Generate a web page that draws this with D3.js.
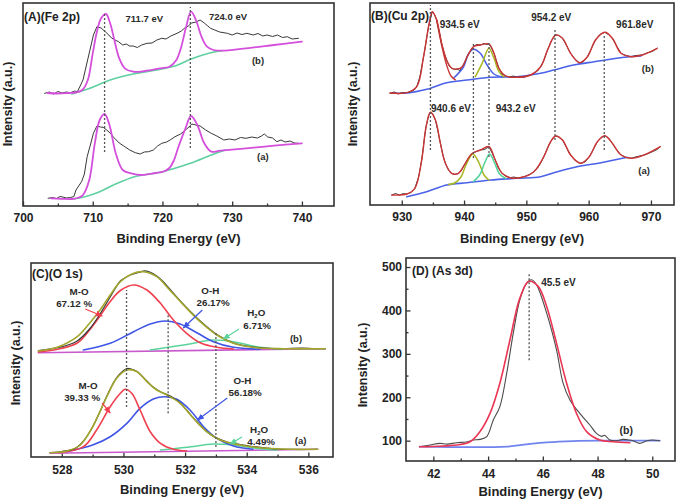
<!DOCTYPE html>
<html><head><meta charset="utf-8">
<script src="https://cdn.jsdelivr.net/npm/d3@7"></script>
<style>body{margin:0;background:#fff}svg{display:block}</style>
</head><body>
<script>
// ---------------- DATA ----------------
// Panel A  (Fe 2p)  [binding energy eV, intensity a.u.]
const feB_data = [[703.1,112.7],[703.8,114],[704.4,112],[705,114.5],[705.6,113],[706.2,114],[706.8,113.2],[707.4,115],[707.8,114.3],[708.2,120],[708.6,126],[709.0,138],[709.5,153],[710.1,171],[710.6,179.3],[711.2,178],[711.8,174.3],[712.3,171],[712.7,168],[713.2,166],[713.7,164.3],[714.3,161],[714.8,162],[715.3,160],[715.8,160],[716.4,158.5],[717.0,161],[717.8,162.7],[718.5,163],[719.2,166],[719.9,167.7],[720.5,167],[721.2,170],[722.1,172.7],[722.7,175],[723.2,178],[723.7,180],[724.2,183],[724.8,184],[725.4,186],[726,183],[726.5,180],[726.9,177.7],[727.5,176],[728.2,174],[729.3,172.7],[730,171],[730.7,173],[731.4,171.5],[732.1,172.7],[733,171],[733.7,172.5],[734.4,170],[735,171],[735.8,169.5],[736.5,171],[737.2,168.5],[737.9,169.3],[738.6,167],[739.5,167.7]];
const feB_fit = [[703.5,113],[705,112.5],[706.5,113],[707.5,113.5],[708.5,116],[709.3,126],[710,152.7],[710.6,174.3],[711.2,187.7],[711.9,192],[712.5,182.7],[713.1,166],[713.8,147.7],[714.6,137.7],[715.8,134.3],[717.5,135],[719.7,137.7],[721,139.3],[722,146],[722.7,159.3],[723.4,179.3],[724.1,194.3],[724.8,186],[725.6,169.3],[726.4,159.3],[727.3,156],[728.5,155.3],[732,157.7],[736,161],[740,164.3]];
const feB_bg = [[707,112],[709.6,117.7],[712.5,126],[715.8,132],[719.7,136.7],[722,140.5],[724,146.7],[726.9,153.3],[728.5,155.3]];
const feA_data = [[703.6,7.7],[704.2,8.5],[704.8,7.5],[705.3,9.5],[705.7,9],[706.2,8],[706.8,8.5],[707.3,9.5],[707.6,16],[708.4,24.3],[708.8,32],[709.2,49.3],[709.7,62],[710.1,72.7],[710.6,80],[711.1,79],[711.5,78.7],[712,76],[712.5,73],[713,68.7],[713.8,63],[714.6,59.3],[715.3,56],[716.1,53.3],[716.8,52],[717.4,54],[718,54.3],[718.7,56],[719.3,60],[719.9,62.7],[720.6,64],[721.2,66.5],[721.8,69.3],[722.6,72],[723.3,76],[723.8,79],[724.2,82],[724.8,81],[725.4,80],[726.2,76],[727,72.7],[727.8,70],[728.8,66],[729.6,67],[730.4,66],[731.2,68.5],[732,67.7],[732.8,69],[733.6,68],[734.2,70],[734.6,72],[735.1,69],[735.8,68],[736.4,64.3],[737,66],[737.6,64],[738.3,65],[738.9,63],[739.5,62.7]];
const feA_fit = [[704,7.7],[705.5,7.2],[707,7],[708,8.5],[708.6,11],[709.5,26],[710.3,62.7],[711,86],[711.7,92],[712.4,81],[713.3,52.7],[714.3,36],[715.5,32.7],[717,31],[719,33],[720.2,34.5],[721,38],[721.6,45],[722.3,59.3],[723.3,77.7],[724.1,90],[725,81],[726,62.7],[727,54.3],[728.3,55.3],[732,57.7],[736,60.3],[740,62.7]];
const feA_bg = [[707,7],[708.9,9.3],[711,14.3],[713,21],[716,29.3],[720,34.3],[724,42.7],[727,51],[729,56]];
const feMarks = [[711.7,54,194],[724.0,58,199]];   // eV, low, high
const feTicksMajor = [700,710,720,730,740];
const feTicksMinor = [705,715,725,735];

// Panel B  (Cu 2p)
const cuB_data = [[928.1,111.7],[928.8,113],[929.4,111],[930.1,112.5],[930.8,112.3],[931.5,113.5],[932,115],[932.4,118.3],[932.9,128],[933.5,148.3],[934,167],[934.3,178.3],[934.9,193.3],[935.3,190],[935.6,185],[936,174],[936.4,161.7],[936.8,152],[937.2,145],[937.6,139],[938,136.7],[938.5,135.5],[938.9,136],[939.3,134.5],[939.7,138.3],[940.1,143],[940.5,148.3],[941,154],[941.5,158.3],[942,160.5],[942.6,160],[943.2,161.5],[943.6,160.5],[944,161],[944.4,157],[944.8,151.7],[945.2,144],[945.6,136.7],[946.1,131],[946.7,129],[947.3,128],[947.9,129],[948.5,127.7],[949.1,128.5],[949.6,127.5],[950.2,129.5],[950.7,130],[951.3,132],[951.8,134],[952.3,138.3],[952.9,146],[953.4,155],[954,164],[954.7,170],[955.2,169.5],[955.8,166.7],[956.4,160],[957.1,151.7],[957.8,146],[958.5,142.3],[959.1,143],[959.8,148.3],[960.4,156],[961.1,165],[961.8,170.5],[962.6,172.7],[963.2,170.5],[963.8,166.7],[964.5,159],[965.2,151.7],[966,149.5],[966.8,148.3],[967.6,149.5],[968.6,150],[969.3,152],[970.2,153.5],[971,156.7]];
const cuB_fit = [[928.1,112],[930.8,112.3],[932.4,118.3],[933.5,148.3],[934.3,178.3],[934.9,193.3],[935.6,185],[936.4,161.7],[937.2,145],[938,137],[938.9,136],[939.7,138.3],[940.5,148.3],[941.5,158.3],[942.6,160],[944,161],[944.8,151.7],[945.6,136.7],[946.7,129],[948.5,127.7],[950.7,130],[952.3,138.3],[953.4,155],[954.7,170],[955.8,166.7],[957.1,151.7],[958.5,142.3],[959.8,148.3],[961.1,165],[962.6,172.7],[963.8,166.7],[965.2,151.7],[966.8,148.3],[968.6,150],[971,156.7]];
const cuB_main = [[935.6,185],[936.4,160],[937.2,140],[937.9,129],[938.6,125.2]];
const cuB_bg = [[928.5,112],[930.8,112],[934,115.7],[937.2,122.3],[940.5,125],[944.3,127.7],[948.5,128.3],[952.3,131.7],[954.4,135],[957.6,140],[960.9,143.3],[965.7,147.7],[968.4,149]];
const cuB_sat1 = [[938.3,126.7],[939.9,138],[940.7,151],[941.5,155.7],[942.6,151.7],[943.7,140],[944.8,131],[946.4,127.7]];
const cuB_sat2 = [[941.8,128.3],[942.9,141.7],[944,156.7],[944.8,146.7],[945.6,133.3],[946.4,128]];
const cuA_data = [[928.4,10],[929,11.5],[929.6,10],[930.2,11.3],[930.8,11],[931.5,12.5],[932.1,16.7],[932.7,28],[933.2,45],[933.6,65],[933.9,78.3],[934.3,89],[934.6,92.7],[935,91],[935.4,85],[935.8,74],[936.2,61.7],[936.6,50],[937,41.7],[937.5,35],[938,31.7],[938.5,30.5],[939.1,31.7],[939.6,35],[940.2,41.7],[940.7,47],[941.2,51],[941.8,53],[942.6,55],[943.3,55.5],[944,58.3],[944.5,52],[945,45],[945.5,37],[946.1,31.7],[946.7,29],[947.4,27.3],[948,28],[948.6,27],[949.3,27.7],[949.9,29],[950.5,30.5],[951.2,33.3],[951.8,37],[952.3,42],[952.8,48.3],[953.4,57],[953.9,63.3],[954.3,67],[954.7,69],[955.2,68],[955.8,65],[956.4,58],[957.1,50],[957.9,44],[958.7,41.7],[959.4,43],[960.1,48.3],[960.7,55],[961.4,63.3],[962,67.5],[962.6,69.3],[963.2,67],[963.8,61.7],[964.5,55],[965.2,50],[966,47.5],[966.8,46.7],[967.5,48],[968.2,49],[968.9,50],[969.6,51.5],[970.3,53.5],[971,55.5],[971.5,58.3]];
const cuA_fit = [[928.4,10],[930.8,11],[932.1,16.7],[933.2,45],[933.9,78.3],[934.6,92.7],[935.4,85],[936.2,61.7],[937,41.7],[938,31.7],[939.1,31.7],[940.2,41.7],[941.2,51],[942.6,55],[944,58.3],[945,45],[946.1,31.7],[947.4,27.3],[949.3,27.7],[951.2,33.3],[952.8,48.3],[953.9,63.3],[954.7,69],[955.8,65],[957.1,50],[958.7,41.7],[960.1,48.3],[961.4,63.3],[962.6,69.3],[963.8,61.7],[965.2,50],[966.8,46.7],[968.9,50],[971.5,58.3]];
const cuA_bg = [[930.8,8.3],[934,13.3],[937.2,20],[940.5,22.3],[944.3,25],[948.5,26.7],[952.3,28.3],[955,33.3],[958.7,39],[962,42.3],[966.2,47.7]];
const cuA_sat1 = [[937.5,20.5],[938.5,22],[939.5,28],[940.3,40],[941.4,51],[942.4,42],[943.2,30],[944,25]];
const cuA_sat2 = [[941.5,23.5],[942.5,30],[943.3,42],[944.1,51],[944.9,42],[945.7,31],[946.7,26.5]];
const cuMarks = [[934.6,55,200],[941.5,47,162],[944.0,48,162],[954.6,65,177],[962.5,55,170]];
const cuTicksMajor = [930,940,950,960,970];
const cuTicksMinor = [935,945,955,965];

// Panel C  (O 1s)
const oB_data = [[527.24,106.5],[527.6,108],[527.9,109.5],[528.2,112],[528.5,116],[528.9,128],[529.24,143],[529.57,160],[529.9,176],[530.1,180],[530.27,182.5],[530.5,184.5],[530.65,186],[530.85,185],[531.08,181],[531.3,175],[531.5,168],[531.95,152.5],[532.49,136],[533.03,122.5],[533.57,114],[534.2,110],[534.8,108.5],[535.2,108.5],[535.8,109],[536.2,108.3],[536.55,108.3]];
const oB_env = [[527.24,106],[527.9,110.3],[528.5,120.3],[528.9,133.7],[529.24,147],[529.57,162],[529.9,175.3],[530.27,183],[530.65,185.3],[531.08,180.3],[531.5,167],[531.95,152],[532.49,135.3],[533.03,122],[533.57,113.7],[534.2,109.7],[535.2,108.3],[536.55,108.3]];
const oB_MO = [[527.24,105],[527.9,108],[528.5,114],[528.9,127],[529.24,141],[529.57,155.5],[529.9,166.5],[530.33,172],[530.76,167],[531.2,153.7],[531.62,137],[532.05,123.7],[532.49,114.3],[533.03,109.7],[533.57,108]];
const oB_OH = [[528.7,107],[529.57,113.7],[530.33,125.3],[530.87,133],[531.35,136],[531.84,133],[532.38,124.3],[532.92,115.3],[533.57,109.7],[534.43,107.7]];
const oB_H2O = [[530.87,107],[531.95,112],[532.92,117],[533.57,115.3],[534.43,109.7],[535.2,108]];
const oB_base = [[527.24,104.3],[536.55,108.3]];
const oA_data = [[527.62,4.5],[527.9,5],[528.16,6.3],[528.4,8],[528.6,12.5],[528.8,20],[529.0,30],[529.25,46],[529.46,61],[529.62,71],[529.78,79.5],[529.95,85],[530.11,88.5],[530.25,88],[530.44,85.5],[530.6,81],[530.76,76],[530.92,71],[531.08,67.5],[531.25,64.5],[531.41,62.5],[531.6,59.5],[531.84,54],[532.05,47],[532.27,39],[532.5,31.5],[532.7,25.5],[532.9,21],[533.14,17.5],[533.4,14.5],[533.78,12.5],[534.2,10.5],[534.65,9],[535,8],[535.4,7.7],[535.8,7.5],[536.3,7.7]];
const oA_env = [[527.62,4.3],[528.16,6],[528.6,12],[529.0,30.3],[529.46,60.3],[529.78,78.7],[530.11,87],[530.44,85.3],[530.76,75.3],[531.08,67],[531.41,62],[531.84,53.7],[532.27,38.7],[532.7,25.3],[533.14,17],[533.78,12],[534.65,8.7],[535.4,7.7],[536.3,7.7]];
const oA_MO = [[527.9,4.3],[528.7,10.3],[529.13,27],[529.57,50.3],[529.9,63.7],[530.05,67.7],[530.27,63.7],[530.54,47],[530.87,25.3],[531.2,13.7],[531.62,7.7],[532.05,6]];
const oA_OH = [[528.16,5.3],[529.0,12],[529.57,20.3],[530.11,33.7],[530.54,48.7],[530.97,58],[531.35,60.3],[531.73,57.7],[532.16,47],[532.6,30.3],[533.03,18.7],[533.57,11],[534.2,7.7]];
const oA_H2O = [[531.2,7],[532.05,9.7],[532.92,13],[533.57,12],[534.43,8.3],[535,7]];
const oA_base = [[527.62,3.7],[536.3,7.7]];
const oMarks = [[530.1,50,167],[531.45,43.7,143.7],[533.0,10,125]];
const oTicksMajor = [528,530,532,534,536];
const oTicksMinor = [529,531,533,535];

// Panel D  (As 3d)
const as_data = [[41.5,86],[41.88,90],[42.24,93.9],[42.5,92],[42.85,95.4],[43.2,97],[43.46,101.5],[43.7,103],[43.95,109.3],[44.19,147.7],[44.43,178.5],[44.68,255.4],[44.92,347.7],[45.16,424.6],[45.41,463],[45.59,470.8],[45.77,459.3],[46.14,393.9],[46.5,309.3],[46.74,232.4],[46.99,193.9],[47.35,163],[47.72,136.1],[47.96,116.9],[48.15,110],[48.26,112.3],[48.45,101.5],[48.7,100],[48.93,103],[49.1,102],[49.3,100],[49.54,93.9],[49.8,100],[50.0,101.5],[50.27,100]];
const as_fit = [[41.5,86],[42.85,90],[43.34,97.7],[43.7,120.8],[44.07,163],[44.43,232.4],[44.8,332.4],[45.16,428.4],[45.49,467],[45.83,455.4],[46.14,409.2],[46.5,324.7],[46.87,232.4],[47.23,163],[47.6,120.8],[48.08,101.5],[48.57,97.7],[49.18,95.4]];
const as_bg = [[41.5,86.2],[44.68,86.2],[45.41,91.6],[46.14,96.2],[47.11,99.2],[48.32,100],[50.27,100]];
const asMarks = [[45.5,285,486]];
const asTicksMajor = [42,44,46,48,50];
const asTicksMinor = [43,45,47,49];
const asYMajor = [100,200,300,400,500];
const asYMinor = [150,250,350,450];

// ---------------- DRAWING ----------------
const FONT = "'Liberation Sans', Arial, Helvetica, sans-serif";
const svg = d3.select("body").append("svg").attr("width",685).attr("height",500)
  .style("font-family",FONT);

const defs = svg.append("defs");
function marker(id,color){
  defs.append("marker").attr("id",id).attr("viewBox","0 0 10 10").attr("refX",9).attr("refY",5)
    .attr("markerWidth",6).attr("markerHeight",6).attr("orient","auto-start-reverse")
    .append("path").attr("d","M0,1 L10,5 L0,9 z").attr("fill",color);
}

function panel(c){
  const x = d3.scaleLinear().domain(c.xd).range([c.l,c.r]);
  const y = d3.scaleLinear().domain(c.yd).range([c.b,c.t]);
  const g = svg.append("g");
  const ax = g.append("g").attr("transform",`translate(0,${c.b})`)
    .call(d3.axisBottom(x).tickValues(c.xMaj).tickSize(-4.5).tickPadding(c.xPad).tickFormat(d3.format("d")));
  const axm = g.append("g").attr("transform",`translate(0,${c.b})`)
    .call(d3.axisBottom(x).tickValues(c.xMin).tickSize(-2.5).tickFormat(""));
  [ax,axm].forEach(a=>{a.select(".domain").remove(); a.selectAll("line").attr("stroke","#333").attr("stroke-width",1.3);});
  ax.selectAll("text").attr("font-size",12).attr("font-weight","bold").attr("font-family",FONT).attr("fill","#222");
  if(c.yMaj){
    const ay = g.append("g").attr("transform",`translate(${c.l},0)`)
      .call(d3.axisLeft(y).tickValues(c.yMaj).tickSize(-4.5).tickPadding(4).tickFormat(d3.format("d")));
    const aym = g.append("g").attr("transform",`translate(${c.l},0)`)
      .call(d3.axisLeft(y).tickValues(c.yMin).tickSize(-2.5).tickFormat(""));
    [ay,aym].forEach(a=>{a.select(".domain").remove(); a.selectAll("line").attr("stroke","#333").attr("stroke-width",1.3);});
    ay.selectAll("text").attr("font-size",12).attr("font-weight","bold").attr("font-family",FONT).attr("fill","#222");
  }
  g.append("rect").attr("x",c.l).attr("y",c.t).attr("width",c.r-c.l).attr("height",c.b-c.t)
    .attr("fill","none").attr("stroke","#333").attr("stroke-width",1.6);
  g.append("text").attr("x",(c.l+c.r)/2 + (c.xtOff||0)).attr("y",c.xtY).attr("dy","0.35em")
    .attr("text-anchor","middle").attr("font-size",13).attr("font-weight","bold").attr("fill","#222")
    .text("Binding Energy (eV)");
  g.append("text").attr("transform",`translate(${c.ytX},${c.ytY}) rotate(-90)`).attr("dy","0.35em")
    .attr("text-anchor","middle").attr("font-size",12.5).attr("font-weight","bold").attr("fill","#222")
    .text("Intensity (a.u.)");
  g.append("text").attr("x",c.l+c.lblDx).attr("y",c.t+c.lblDy).attr("dy","0.35em")
    .attr("font-size",12).attr("font-weight","bold").attr("fill","#222").text(c.label);
  return {x,y,g};
}

function curve(p,data,color,w,smooth){
  const line = d3.line().x(d=>p.x(d[0])).y(d=>p.y(d[1]))
    .curve(smooth ? d3.curveCatmullRom.alpha(0.5) : d3.curveLinear);
  p.g.append("path").datum(data).attr("d",line).attr("fill","none")
    .attr("stroke",color).attr("stroke-width",w).attr("stroke-linejoin","round").attr("stroke-linecap","round");
}
function marks(p,data){
  p.g.selectAll(null).data(data).enter().append("line")
    .attr("x1",d=>p.x(d[0])).attr("x2",d=>p.x(d[0]))
    .attr("y1",d=>p.y(d[1])).attr("y2",d=>p.y(d[2]))
    .attr("stroke","#555").attr("stroke-width",1.3).attr("stroke-dasharray","2,2");
}
function txt(p,xv,yv,s,size,anchor){
  return p.g.append("text").attr("x",p.x(xv)).attr("y",p.y(yv)).attr("dy","0.35em")
    .attr("text-anchor",anchor||"middle").attr("font-size",size).attr("font-weight","bold")
    .attr("fill","#2a2a2a").text(s);
}
function h2o(p,xv,yv,size){
  const t = p.g.append("text").attr("x",p.x(xv)).attr("y",p.y(yv)).attr("dy","0.3em")
    .attr("text-anchor","middle").attr("font-size",size).attr("font-weight","bold").attr("fill","#2a2a2a");
  t.append("tspan").text("H");
  t.append("tspan").attr("font-size",size*0.6).attr("dy",1.5).text("2");
  t.append("tspan").attr("dy",-1.5).text("O");
}
function arrow(p,x1,y1,x2,y2,color,id){
  p.g.append("line").attr("x1",p.x(x1)).attr("y1",p.y(y1)).attr("x2",p.x(x2)).attr("y2",p.y(y2))
    .attr("stroke",color).attr("stroke-width",1.2).attr("marker-end",`url(#${id})`);
}

const BLACK = "#383838";

// ---- Panel A ----
const pA = panel({l:23,r:334,t:3,b:206,xd:[700,744.6],yd:[0,203],xMaj:feTicksMajor,xMin:feTicksMinor,xPad:7,
  xtY:238,ytX:8,ytY:104,label:"(A)(Fe 2p)",lblDx:1,lblDy:14});
const A_FIT="#d44fdc", A_BG="#5fd0a0";
curve(pA,feA_bg,A_BG,1.6,true);
curve(pA,feB_bg,A_BG,1.6,true);
curve(pA,feA_data,BLACK,1,false);
curve(pA,feB_data,BLACK,1,false);
curve(pA,feA_fit,A_FIT,1.8,true);
curve(pA,feB_fit,A_FIT,1.8,true);
marks(pA,feMarks);
txt(pA,717.4,187,"711.7 eV",9.5);
txt(pA,729.4,189.3,"724.0 eV",9.5);
txt(pA,733.7,145,"(b)",9.5);
txt(pA,734.4,49,"(a)",9.5);

// ---- Panel B ----
const pB = panel({l:370,r:674,t:3,b:205,xd:[924.9,973.7],yd:[0,202],xMaj:cuTicksMajor,xMin:cuTicksMinor,xPad:7,
  xtY:238,ytX:353,ytY:104,label:"(B)(Cu 2p)",lblDx:1,lblDy:13});
const B_RED="#cc3535", B_BLUE="#4a62e8", B_OLIVE="#a8b622", B_GREEN="#4fd39a";
curve(pB,cuA_bg,B_BLUE,1.6,true);
curve(pB,cuB_bg,B_BLUE,1.6,true);
curve(pB,cuB_sat1,B_BLUE,1.5,true);
curve(pB,cuB_sat2,B_OLIVE,1.5,true);
curve(pB,cuA_sat1,B_OLIVE,1.5,true);
curve(pB,cuA_sat2,B_GREEN,1.5,true);
curve(pB,cuB_main,B_RED,1.4,true);
curve(pB,cuA_data,BLACK,1,false);
curve(pB,cuB_data,BLACK,1,false);
curve(pB,cuA_fit,B_RED,1.4,true);
curve(pB,cuB_fit,B_RED,1.4,true);
marks(pB,cuMarks);
txt(pB,939.3,181,"934.5 eV",10);
txt(pB,954.0,188,"954.2 eV",10);
txt(pB,967.4,181,"961.8eV",10);
txt(pB,937.9,97,"940.6 eV",10);
txt(pB,948.3,97,"943.2 eV",10);
txt(pB,969.5,136,"(b)",9.5);
txt(pB,968.9,34,"(a)",9.5);

// ---- Panel C ----
const pC = panel({l:31,r:333,t:263,b:457,xd:[527.0,536.8],yd:[0,194],xMaj:oTicksMajor,xMin:oTicksMinor,xPad:8,
  xtY:489,ytX:16,ytY:363,label:"(C)(O 1s)",lblDx:1,lblDy:11});
const C_ENV="#a2a62c", C_RED="#f0404f", C_BLUE="#3f55e6", C_GREEN="#5ad49c", C_MAG="#c95acd";
marker("mRed",C_RED); marker("mBlue",C_BLUE); marker("mGreen",C_GREEN);
curve(pC,oB_base,C_MAG,1.6,false);
curve(pC,oA_base,C_MAG,1.6,false);
curve(pC,oB_H2O,C_GREEN,1.5,true);
curve(pC,oA_H2O,C_GREEN,1.5,true);
curve(pC,oB_OH,C_BLUE,1.6,true);
curve(pC,oA_OH,C_BLUE,1.6,true);
curve(pC,oB_MO,C_RED,1.6,true);
curve(pC,oA_MO,C_RED,1.6,true);
curve(pC,oB_data,BLACK,1.2,true);
curve(pC,oA_data,BLACK,1.2,true);
curve(pC,oB_env,C_ENV,1.6,true);
curve(pC,oA_env,C_ENV,1.6,true);
marks(pC,oMarks);
const CF = 9.8;
txt(pC,528.56,165,"M-O",CF); txt(pC,528.4,153.5,"67.12 %",CF);
arrow(pC,528.76,148,529.31,141,C_RED,"mRed");
txt(pC,532.82,166,"O-H",CF); txt(pC,532.91,154.5,"26.17%",CF);
arrow(pC,532.56,147,531.94,129,C_BLUE,"mBlue");
h2o(pC,534.31,143.5,CF); txt(pC,534.34,131.5,"6.71%",CF);
arrow(pC,533.75,128,533.24,118,C_GREEN,"mGreen");
txt(pC,535.6,118,"(b)",9.5);
txt(pC,528.85,71,"M-O",CF); txt(pC,528.66,59.5,"39.33 %",CF);
arrow(pC,529.31,54,529.57,44,C_RED,"mRed");
txt(pC,533.86,76,"O-H",CF); txt(pC,533.95,64.5,"56.18%",CF);
arrow(pC,533.37,59,532.4,37,C_BLUE,"mBlue");
h2o(pC,534.4,26.5,CF); txt(pC,534.47,15,"4.49%",CF);
arrow(pC,533.85,20,533.46,13,C_GREEN,"mGreen");
txt(pC,535.75,16,"(a)",9.5);

// ---- Panel D ----
const pD = panel({l:406,r:675,t:258,b:461,xd:[41.0,50.83],yd:[53.2,520.8],xMaj:asTicksMajor,xMin:asTicksMinor,xPad:8,
  yMaj:asYMajor,yMin:asYMinor,xtY:491,ytX:363,ytY:365,label:"(D) (As 3d)",lblDx:6,lblDy:13});
curve(pD,as_bg,"#7083ee",1.8,true);
curve(pD,as_data,"#4a4a4a",1.1,true);
curve(pD,as_fit,"#ea3553",1.6,true);
marks(pD,asMarks);
txt(pD,46.57,463.8,"45.5 eV",10);
txt(pD,49.05,124.7,"(b)",10.5);
</script>
</body></html>
